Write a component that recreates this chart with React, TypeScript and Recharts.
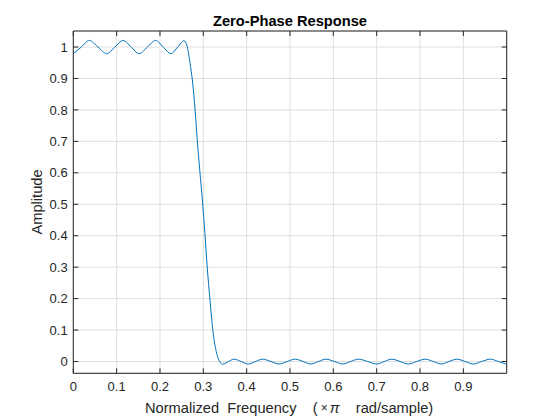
import React from 'react';
import { LineChart, Line, XAxis, YAxis, CartesianGrid } from 'recharts';

// Normalized frequency (x pi rad/sample)
const freq = [
  0, 0.0185, 0.037, 0.057, 0.077, 0.096, 0.115, 0.1335, 0.152, 0.171, 0.19, 0.2075, 0.225, 0.241, 0.2555,
  0.262, 0.269, 0.2755, 0.281, 0.286, 0.292, 0.298, 0.3035, 0.309, 0.3155, 0.323, 0.331, 0.3386, 0.345,
  0.358, 0.371, 0.3875, 0.404, 0.4205, 0.437, 0.456, 0.475, 0.4935, 0.512, 0.53, 0.548, 0.5655, 0.583,
  0.6025, 0.622, 0.64, 0.658, 0.679, 0.7, 0.7175, 0.735, 0.754, 0.773, 0.7925, 0.812, 0.8305, 0.849,
  0.867, 0.885, 0.904, 0.923, 0.9425, 0.962, 0.981, 0.998,
];

// Zero-phase amplitude
const amplitude = [
  0.979, 1.0, 1.021, 1.0, 0.979, 1.0, 1.021, 1.0, 0.979, 1.0, 1.021, 1.0, 0.979, 1.0, 1.02,
  1.006, 0.952, 0.885, 0.8, 0.704, 0.605, 0.51, 0.41, 0.3, 0.194, 0.088, 0.025, -0.002, -0.0085,
  0, 0.0075, 0, -0.008, 0, 0.0075, 0, -0.008, 0, 0.0075, 0, -0.008, 0, 0.0075,
  0, -0.008, 0, 0.0075, 0, -0.008, 0, 0.0075, 0, -0.008, 0, 0.0075, 0, -0.008,
  0, 0.0075, 0, -0.008, 0, 0.0075, 0, -0.008,
];

const xTicks = [0, 0.1, 0.2, 0.3, 0.4, 0.5, 0.6, 0.7, 0.8, 0.9];
const yTicks = [0, 0.1, 0.2, 0.3, 0.4, 0.5, 0.6, 0.7, 0.8, 0.9, 1];

const titleText = 'Zero-Phase Response';
const yLabelText = 'Amplitude';

const data = freq.map((f, i) => ({ f, a: amplitude[i] }));

const FONT = '"Liberation Sans", Arial, Helvetica, sans-serif';
const TXT = '#262626';

const fmt = (v: number) => String(Number(v.toFixed(2)));

const XTick = (props: any) => {
  const { x, y, payload } = props;
  return (
    <text x={x} y={y + 17.7} textAnchor="middle" fontSize={13} fill={TXT} fontFamily={FONT}>
      {fmt(payload.value)}
    </text>
  );
};

const YTick = (props: any) => {
  const { x, y, payload } = props;
  return (
    <text x={x - 5.6} y={y + 4.6} textAnchor="end" fontSize={13} fill={TXT} fontFamily={FONT}>
      {fmt(payload.value)}
    </text>
  );
};

const Empty = () => <g />;

export default function App() {
  return (
    <div style={{ position: 'absolute', left: 0, top: 0, width: 560, height: 420, background: '#fff' }}>
      <LineChart
        width={560}
        height={420}
        data={data}
        margin={{ top: 21, right: 43.3, bottom: 16.7, left: 33.3 }}
      >
        <CartesianGrid stroke="#dfdfdf" strokeWidth={1} />
        <XAxis
          dataKey="f"
          type="number"
          domain={[0, 1]}
          ticks={xTicks}
          interval={0}
          allowDataOverflow
          height={30}
          tickSize={-5}
          tickMargin={5}
          tick={XTick}
          stroke={TXT}
          axisLine={{ stroke: TXT }}
          tickLine={{ stroke: TXT }}
        />
        <XAxis
          xAxisId="top"
          orientation="top"
          dataKey="f"
          type="number"
          domain={[0, 1]}
          ticks={xTicks}
          interval={0}
          allowDataOverflow
          height={10}
          tickSize={-5}
          tick={Empty}
          axisLine={{ stroke: TXT }}
          tickLine={{ stroke: TXT }}
        />
        <YAxis
          type="number"
          domain={[-0.0375, 1.051]}
          ticks={yTicks}
          interval={0}
          allowDataOverflow
          width={40}
          tickSize={-5}
          tickMargin={5}
          tick={YTick}
          axisLine={{ stroke: TXT }}
          tickLine={{ stroke: TXT }}
        />
        <YAxis
          yAxisId="right"
          orientation="right"
          type="number"
          domain={[-0.0375, 1.051]}
          ticks={yTicks}
          interval={0}
          allowDataOverflow
          width={10}
          tickSize={-5}
          tick={Empty}
          axisLine={{ stroke: TXT }}
          tickLine={{ stroke: TXT }}
        />
        <Line
          type="monotone"
          dataKey="a"
          stroke="#0072BD"
          strokeWidth={1}
          dot={false}
          isAnimationActive={false}
        />
      </LineChart>
      <svg
        width={560}
        height={420}
        style={{ position: 'absolute', left: 0, top: 0, pointerEvents: 'none' }}
      >
        <text x={290} y={25.7} textAnchor="middle" fontSize={14.67} fontWeight="bold" fill="#000" fontFamily={FONT}>
          {titleText}
        </text>
        <text
          x={41.5}
          y={202}
          textAnchor="middle"
          fontSize={14.67}
          fill={TXT}
          fontFamily={FONT}
          transform="rotate(-90 41.5 202)"
        >
          {yLabelText}
        </text>
        <text x={145} y={413} fontSize={14.67} fill={TXT} fontFamily={FONT} style={{ whiteSpace: 'pre' }}>
          <tspan>{'Normalized  Frequency    ('}</tspan>
          <tspan fontSize={12} dy={-1.5} dx={3}>{'×'}</tspan>
          <tspan dy={1.5} dx={2} fontStyle="italic">{'π'}</tspan>
          <tspan>{'    rad/sample)'}</tspan>
        </text>
      </svg>
    </div>
  );
}
